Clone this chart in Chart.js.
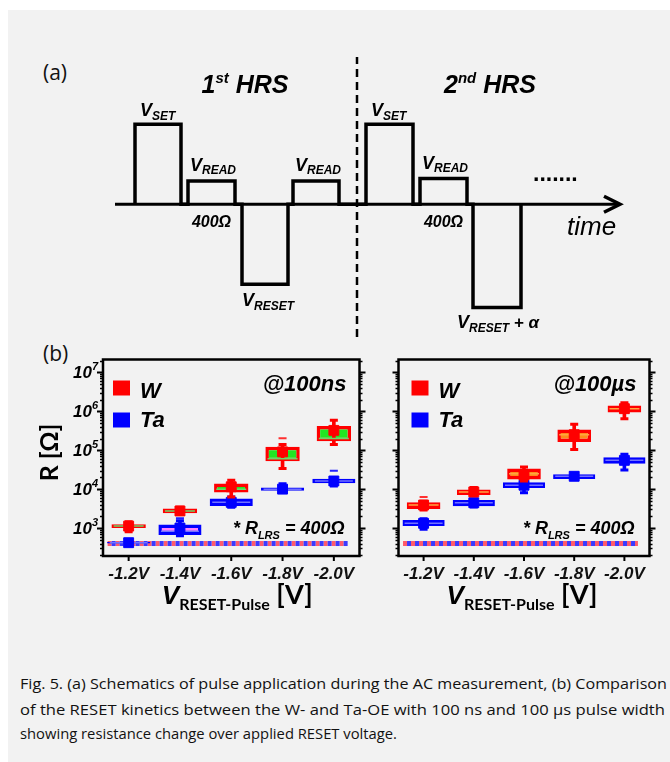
<!DOCTYPE html>
<html>
<head>
<meta charset="utf-8">
<script src="https://cdn.jsdelivr.net/npm/chart.js@4.4.1/dist/chart.umd.min.js"></script>
<style>
  html, body { margin: 0; padding: 0; background: #fff; }
  #page { position: relative; width: 670px; height: 762px; overflow: hidden; background: #fff; }
  #sheet { position: absolute; left: 8px; top: 10px; right: 0; bottom: 0; background: #f2f2f2; }
  canvas { position: absolute; }
  .tag { position: absolute; font-family: "Open Sans", sans-serif; font-size: 21px; line-height: 24px; color: #111; }
  .cap { position: absolute; left: 20px; font-family: "Open Sans", sans-serif; font-size: 14px; line-height: 20px;
         color: #111; white-space: nowrap; }
  .cap span { display: inline-block; transform-origin: left center; }
</style>
</head>
<body>
<div id="page">
  <div id="sheet"></div>
  <div class="tag" style="left:43px;top:60px;">(a)</div>
  <div class="tag" style="left:43px;top:341px;">(b)</div>
  <canvas id="pulse" width="670" height="300" style="left:0;top:40px;"></canvas>
  <canvas id="ns" width="380" height="281" style="left:0;top:339px;"></canvas>
  <canvas id="us" width="292" height="281" style="left:378px;top:339px;"></canvas>
  <div class="cap" style="top:674px;"><span data-w="647">Fig. 5. (a) Schematics of pulse application during the AC measurement, (b) Comparison</span></div>
  <div class="cap" style="top:700px;"><span data-w="645">of the RESET kinetics between the W- and Ta-OE with 100 ns and 100 µs pulse width</span></div>
  <div class="cap" style="top:724px;"><span data-w="377">showing resistance change over applied RESET voltage.</span></div>
</div>
<script>
// ---- (a) pulse schematic: time in arbitrary units, level relative to V_SET
var pulseStart = [20, 73, 127, 178, 251, 305, 358];
var pulseEnd   = [66, 120, 173, 224, 298, 352, 406];
var pulseLevel = [1.0, 0.29, -1.0, 0.29, 1.0, 0.32, -1.29];
var timeEnd = 505;
var hrsBoundary = 242;

// ---- (b) RESET kinetics, resistance in ohm
var voltages = ["-1.2V", "-1.4V", "-1.6V", "-1.8V", "-2.0V"];
var rLRS = 400;
var lrsSpan = [-0.41, 4.27];   // extent of the 400 ohm reference line, in category units

// 100 ns, W
var wNsQ1   = [1000, 2400, 8200, 52000, 170000];
var wNsQ3   = [1260, 3200, 14000, 122000, 417000];
var wNsMin  = [800, 2240, 6300, 34000, 141000];
var wNsMax  = [1450, 3400, 17000, 141000, 590000];
var wNsMed  = [1120, 2750, 10000, 60000, 200000];
var wNsMean = [1120, 2750, 11500, 91000, 324000];
var wNsOut  = [null, null, null, 204000, null];
// 100 ns, Ta
var taNsQ1   = [400, 660, 3700, 9100, 14100];
var taNsQ3   = [440, 1230, 5750, 11000, 18600];
var taNsMin  = [395, 630, 3400, 8900, 12000];
var taNsMax  = [450, 1550, 6300, 13800, 20000];
var taNsMed  = [420, 830, 4570, 10000, 16200];
var taNsMean = [420, 1000, 4570, 10000, 16200];
var taNsOut  = [null, 1780, null, null, 29500];
// 100 us, W
var wUsQ1   = [3100, 7100, 17800, 162000, 933000];
var wUsQ3   = [4570, 9800, 33900, 339000, 1410000];
var wUsMin  = [2900, 6800, 16200, 105000, 646000];
var wUsMax  = [4900, 11000, 37000, 468000, 1660000];
var wUsMed  = [3900, 8500, 25000, 251000, 1170000];
var wUsMean = [3900, 8500, 23000, 251000, 1170000];
var wUsOut  = [6300, null, null, null, null];
// 100 us, Ta
var taUsQ1   = [1120, 3630, 10700, 18200, 44700];
var taUsQ3   = [1620, 5250, 15100, 24000, 66100];
var taUsMin  = [930, 3470, 8100, 17800, 30900];
var taUsMax  = [1740, 5500, 16200, 24500, 79400];
var taUsMed  = [1320, 4470, 12600, 21400, 55000];
var taUsMean = [1320, 4470, 12600, 21400, 55000];
var taUsOut  = [null, null, null, null, null];

var SANS = "'Liberation Sans', Arial, sans-serif";
var HUM = "Lato, 'Open Sans', sans-serif";

// draw a run of text pieces [text, font, dy] starting/centred/ending at x
function rich(ctx, x, y, parts, align) {
  var w = 0;
  parts.forEach(function (p) { ctx.font = p[1]; w += ctx.measureText(p[0]).width; });
  var cx = align === "center" ? x - w / 2 : align === "right" ? x - w : x;
  ctx.textAlign = "left";
  ctx.textBaseline = "alphabetic";
  parts.forEach(function (p) {
    ctx.font = p[1];
    ctx.fillText(p[0], cx, y + (p[2] || 0));
    cx += ctx.measureText(p[0]).width;
  });
}
function bi(px, fam) { return "italic bold " + px + "px " + (fam || SANS); }

// ================= (a) =================
(function () {
  var wave = [];
  pulseStart.forEach(function (s, i) {
    wave.push({ x: s, y: 0 }, { x: s, y: pulseLevel[i] }, { x: pulseEnd[i], y: pulseLevel[i] }, { x: pulseEnd[i], y: 0 });
  });
  var yLo = -1.66, yHi = 1.84;

  var labels = {
    id: "pulseLabels",
    afterDatasetsDraw: function (chart) {
      var ctx = chart.ctx, xs = chart.scales.x, ys = chart.scales.y;
      var y0 = ys.getPixelForValue(0);
      ctx.save();
      ctx.fillStyle = "#000";
      ctx.strokeStyle = "#000";
      // arrow head
      var tip = xs.getPixelForValue(timeEnd);
      ctx.lineWidth = 3.5;
      ctx.lineJoin = "miter";
      ctx.beginPath();
      ctx.moveTo(tip - 16, y0 - 8); ctx.lineTo(tip, y0); ctx.lineTo(tip - 16, y0 + 8);
      ctx.stroke();

      rich(ctx, xs.getPixelForValue(130), y0 - 111, [["1", bi(25)], ["st", bi(15), -10], [" HRS", bi(25)]], "center");
      rich(ctx, xs.getPixelForValue(375), y0 - 111, [["2", bi(25)], ["nd", bi(15), -10], [" HRS", bi(25)]], "center");

      pulseStart.forEach(function (s, i) {
        var x1 = xs.getPixelForValue(s), x2 = xs.getPixelForValue(pulseEnd[i]);
        var yl = ys.getPixelForValue(pulseLevel[i]);
        var lv = pulseLevel[i];
        if (lv > 0.9) {
          rich(ctx, x1 + 5, yl - 8, [["V", bi(18)], ["SET", bi(12), 4]]);
        } else if (lv > 0) {
          rich(ctx, x1 + 2, yl - 10, [["V", bi(18)], ["READ", bi(12), 3]]);
          if (i !== 3) rich(ctx, (x1 + x2) / 2, y0 + 23, [["400\u03A9", bi(16)]], "center");
        } else if (lv > -1.1) {
          rich(ctx, x1, yl + 22, [["V", bi(18)], ["RESET", bi(12), 4]]);
        } else {
          rich(ctx, x1 - 16, yl + 21, [["V", bi(18)], ["RESET", bi(12), 4], [" + \u03B1", bi(17)]]);
          rich(ctx, x2 + 12, y0 - 23, [[".......", "bold 23px " + SANS]]);
        }
      });
      ctx.font = "italic 26px " + SANS;
      ctx.fillText("time", xs.getPixelForValue(452), y0 + 31);
      ctx.restore();
    }
  };

  new Chart(document.getElementById("pulse"), {
    type: "line",
    data: {
      datasets: [
        { data: [{ x: 0, y: 0 }, { x: timeEnd - 2, y: 0 }], borderColor: "#000", borderWidth: 3, pointRadius: 0 },
        { data: wave, borderColor: "#000", borderWidth: 3.5, borderJoinStyle: "miter", pointRadius: 0 },
        { data: [{ x: hrsBoundary, y: yLo }, { x: hrsBoundary, y: yHi }], borderColor: "#000", borderWidth: 2.5,
          borderDash: [8, 5], pointRadius: 0 }
      ]
    },
    options: {
      responsive: false, animation: false, events: [],
      layout: { padding: { left: 115, right: 50, top: 17, bottom: 3 } },
      scales: {
        x: { type: "linear", display: false, min: 0, max: timeEnd },
        y: { type: "linear", display: false, min: yLo, max: yHi }
      },
      plugins: { legend: { display: false }, tooltip: { enabled: false } }
    },
    plugins: [labels]
  });
})();

// ================= (b) =================
function pts(arr) {
  return arr.map(function (v, i) { return v == null ? null : { x: voltages[i], y: v }; })
            .filter(function (p) { return p; });
}
function pairs(a, b) { return a.map(function (v, i) { return [v, b[i]]; }); }

function boxSets(s, c, top) {
  var pt = { type: "line", showLine: false, pointHoverRadius: 0 };
  return [
    { type: "bar", data: pairs(s.q1, s.q3), backgroundColor: c.fill, borderColor: c.edge, borderWidth: 3.5,
      borderSkipped: false, grouped: false, barPercentage: c.width, categoryPercentage: 1, order: top + 5 },
    { type: "bar", data: pairs(s.min, s.max), backgroundColor: c.edge, borderWidth: 0, barThickness: 3,
      grouped: false, order: top + 4 },
    Object.assign({ data: pts(s.med), pointStyle: "line", pointRadius: c.medR, pointBorderWidth: 1.5,
      pointBorderColor: c.med, order: top + 3 }, pt),
    Object.assign({ data: pts(s.min).concat(pts(s.max)), pointStyle: "line", pointRadius: 4, pointBorderWidth: 3,
      pointBorderColor: c.edge, order: top + 2 }, pt),
    Object.assign({ data: pts(s.out), pointStyle: "line", pointRadius: 4, pointBorderWidth: 2,
      pointBorderColor: c.out, order: top + 2 }, pt),
    Object.assign({ data: pts(s.mean), pointStyle: "rect", pointRadius: 7, pointBorderWidth: 1,
      pointBackgroundColor: c.edge, pointBorderColor: c.edge, order: top + 1 }, pt)
  ];
}

function lrsSets() {
  var d = [{ x: lrsSpan[0], y: rLRS }, { x: lrsSpan[1], y: rLRS }];
  return [
    { type: "line", xAxisID: "xl", data: d, borderColor: "#ff5a6a", borderWidth: 5, borderDash: [4, 4],
      pointRadius: 0, order: 40 },
    { type: "line", xAxisID: "xl", data: d, borderColor: "#3a3aff", borderWidth: 5, borderDash: [4, 4],
      borderDashOffset: 4, pointRadius: 0, order: 39 }
  ];
}

function decor(o) {
  return {
    id: "decor",
    afterDraw: function (chart) {
      var ctx = chart.ctx, ca = chart.chartArea, ys = chart.scales.y, xs = chart.scales.x;
      ctx.save();
      ctx.strokeStyle = "#000";
      ctx.fillStyle = "#000";
      // y ticks on both sides, outward
      for (var e = 2; e <= 7; e++) {
        for (var m = 1; m <= 9; m++) {
          var v = m * Math.pow(10, e);
          if (v < ys.min || v > ys.max) continue;
          var py = Math.round(ys.getPixelForValue(v)) + 0.5;
          var len = m === 1 ? 6 : 3;
          ctx.lineWidth = m === 1 ? 2 : 1.3;
          ctx.beginPath();
          ctx.moveTo(ca.left, py); ctx.lineTo(ca.left - len, py);
          ctx.moveTo(ca.right, py); ctx.lineTo(ca.right + len, py);
          ctx.stroke();
        }
      }
      // x ticks
      ctx.lineWidth = 2;
      voltages.forEach(function (lab, i) {
        var px = xs.getPixelForValue(i);
        ctx.beginPath(); ctx.moveTo(px, ca.bottom); ctx.lineTo(px, ca.bottom + 5); ctx.stroke();
      });
      // frame
      ctx.lineWidth = 2.5;
      ctx.strokeRect(ca.left, ca.top, ca.right - ca.left, ca.bottom - ca.top);

      if (o.yLabels) {
        for (var k = 3; k <= 7; k++) {
          var ty = ys.getPixelForValue(Math.pow(10, k));
          rich(ctx, ca.left - 5, ty + 6, [["10", bi(17)], [String(k), bi(11), -8]], "right");
        }
        ctx.save();
        ctx.translate(ca.left - 53, ca.top + 93);
        ctx.rotate(-Math.PI / 2);
        ctx.font = "bold 25px " + HUM;
        ctx.textAlign = "center";
        ctx.textBaseline = "middle";
        ctx.fillText("R [\u03A9]", 0, 0);
        ctx.restore();
      }
      // x title
      rich(ctx, (ca.left + ca.right) / 2 + o.titleDx, ca.bottom + 48,
           [["V", bi(26)], ["RESET-Pulse", "bold 16px " + HUM, 6], [" [V]", "bold 27px " + HUM]], "center");
      // legend
      var lx = ca.left + o.legDx;
      ctx.fillStyle = "#ff0000";
      ctx.fillRect(lx, ca.top + 21, 17, 15);
      ctx.fillStyle = "#0000ff";
      ctx.fillRect(lx, ca.top + 53, 17, 15);
      ctx.fillStyle = "#000";
      rich(ctx, lx + 27, ca.top + 38, [["W", bi(22)]]);
      rich(ctx, lx + 27, ca.top + 67, [["Ta", bi(22)]]);
      // annotations
      rich(ctx, ca.right - 13, ca.top + 31, [[o.width, bi(22)]], "right");
      rich(ctx, ca.right - 15, ca.top + 174,
           [["* R", bi(18)], ["LRS", bi(11), 5], [" = 400\u03A9", bi(18)]], "right");
      ctx.restore();
    }
  };
}

function panel(id, w, ta, wFill, taFill, o, pad) {
  var wCol = { fill: wFill, edge: "#ff0000", med: o.wMed, out: "#ff3030", width: 0.67, medR: 15 };
  var taCol = { fill: taFill, edge: "#0000ff", med: "#7272ff", out: "#2020ff", width: 0.84, medR: 19 };
  new Chart(document.getElementById(id), {
    type: "bar",
    data: { labels: voltages, datasets: lrsSets().concat(boxSets(ta, taCol, 20), boxSets(w, wCol, 10)) },
    options: {
      responsive: false, animation: false, events: [],
      layout: { padding: pad },
      scales: {
        x: { type: "category", offset: true, grid: { display: false }, border: { display: false },
             ticks: { color: "#111", padding: 0, font: { family: SANS, size: 17, weight: "bold", style: "italic" } },
             afterFit: function (s) { s.height = 64; } },
        xl: { type: "linear", display: false, offset: false, grid: { offset: false }, min: -0.5, max: 4.5 },
        y: { type: "logarithmic", display: false, min: 191, max: 2.15e7 }
      },
      plugins: { legend: { display: false }, tooltip: { enabled: false } }
    },
    plugins: [decor(o)]
  });
}

panel("ns",
  { q1: wNsQ1, q3: wNsQ3, min: wNsMin, max: wNsMax, med: wNsMed, mean: wNsMean, out: wNsOut },
  { q1: taNsQ1, q3: taNsQ3, min: taNsMin, max: taNsMax, med: taNsMed, mean: taNsMean, out: taNsOut },
  "#22e622", ["#1a1aff", "#ff80ff", "#1a1aff", "#1a1aff", "#1a1aff"],
  { yLabels: true, width: "@100ns", titleDx: 6, legDx: 10, wMed: "#6ad86a" },
  { left: 103, right: 7, top: 20, bottom: 0 });

panel("us",
  { q1: wUsQ1, q3: wUsQ3, min: wUsMin, max: wUsMax, med: wUsMed, mean: wUsMean, out: wUsOut },
  { q1: taUsQ1, q3: taUsQ3, min: taUsMin, max: taUsMax, med: taUsMed, mean: taUsMean, out: taUsOut },
  "#ff8c1a", "#1a1aff",
  { yLabels: false, width: "@100\u00B5s", titleDx: -2, legDx: 13, wMed: "#ffa640" },
  { left: 4, right: 20, top: 20, bottom: 0 });

// fit caption lines to the widths of the original lines
document.querySelectorAll(".cap span").forEach(function (sp) {
  var target = +sp.getAttribute("data-w");
  var wNow = sp.getBoundingClientRect().width;
  if (wNow > 0) sp.style.transform = "scaleX(" + (target / wNow).toFixed(4) + ")";
});
</script>
</body>
</html>
